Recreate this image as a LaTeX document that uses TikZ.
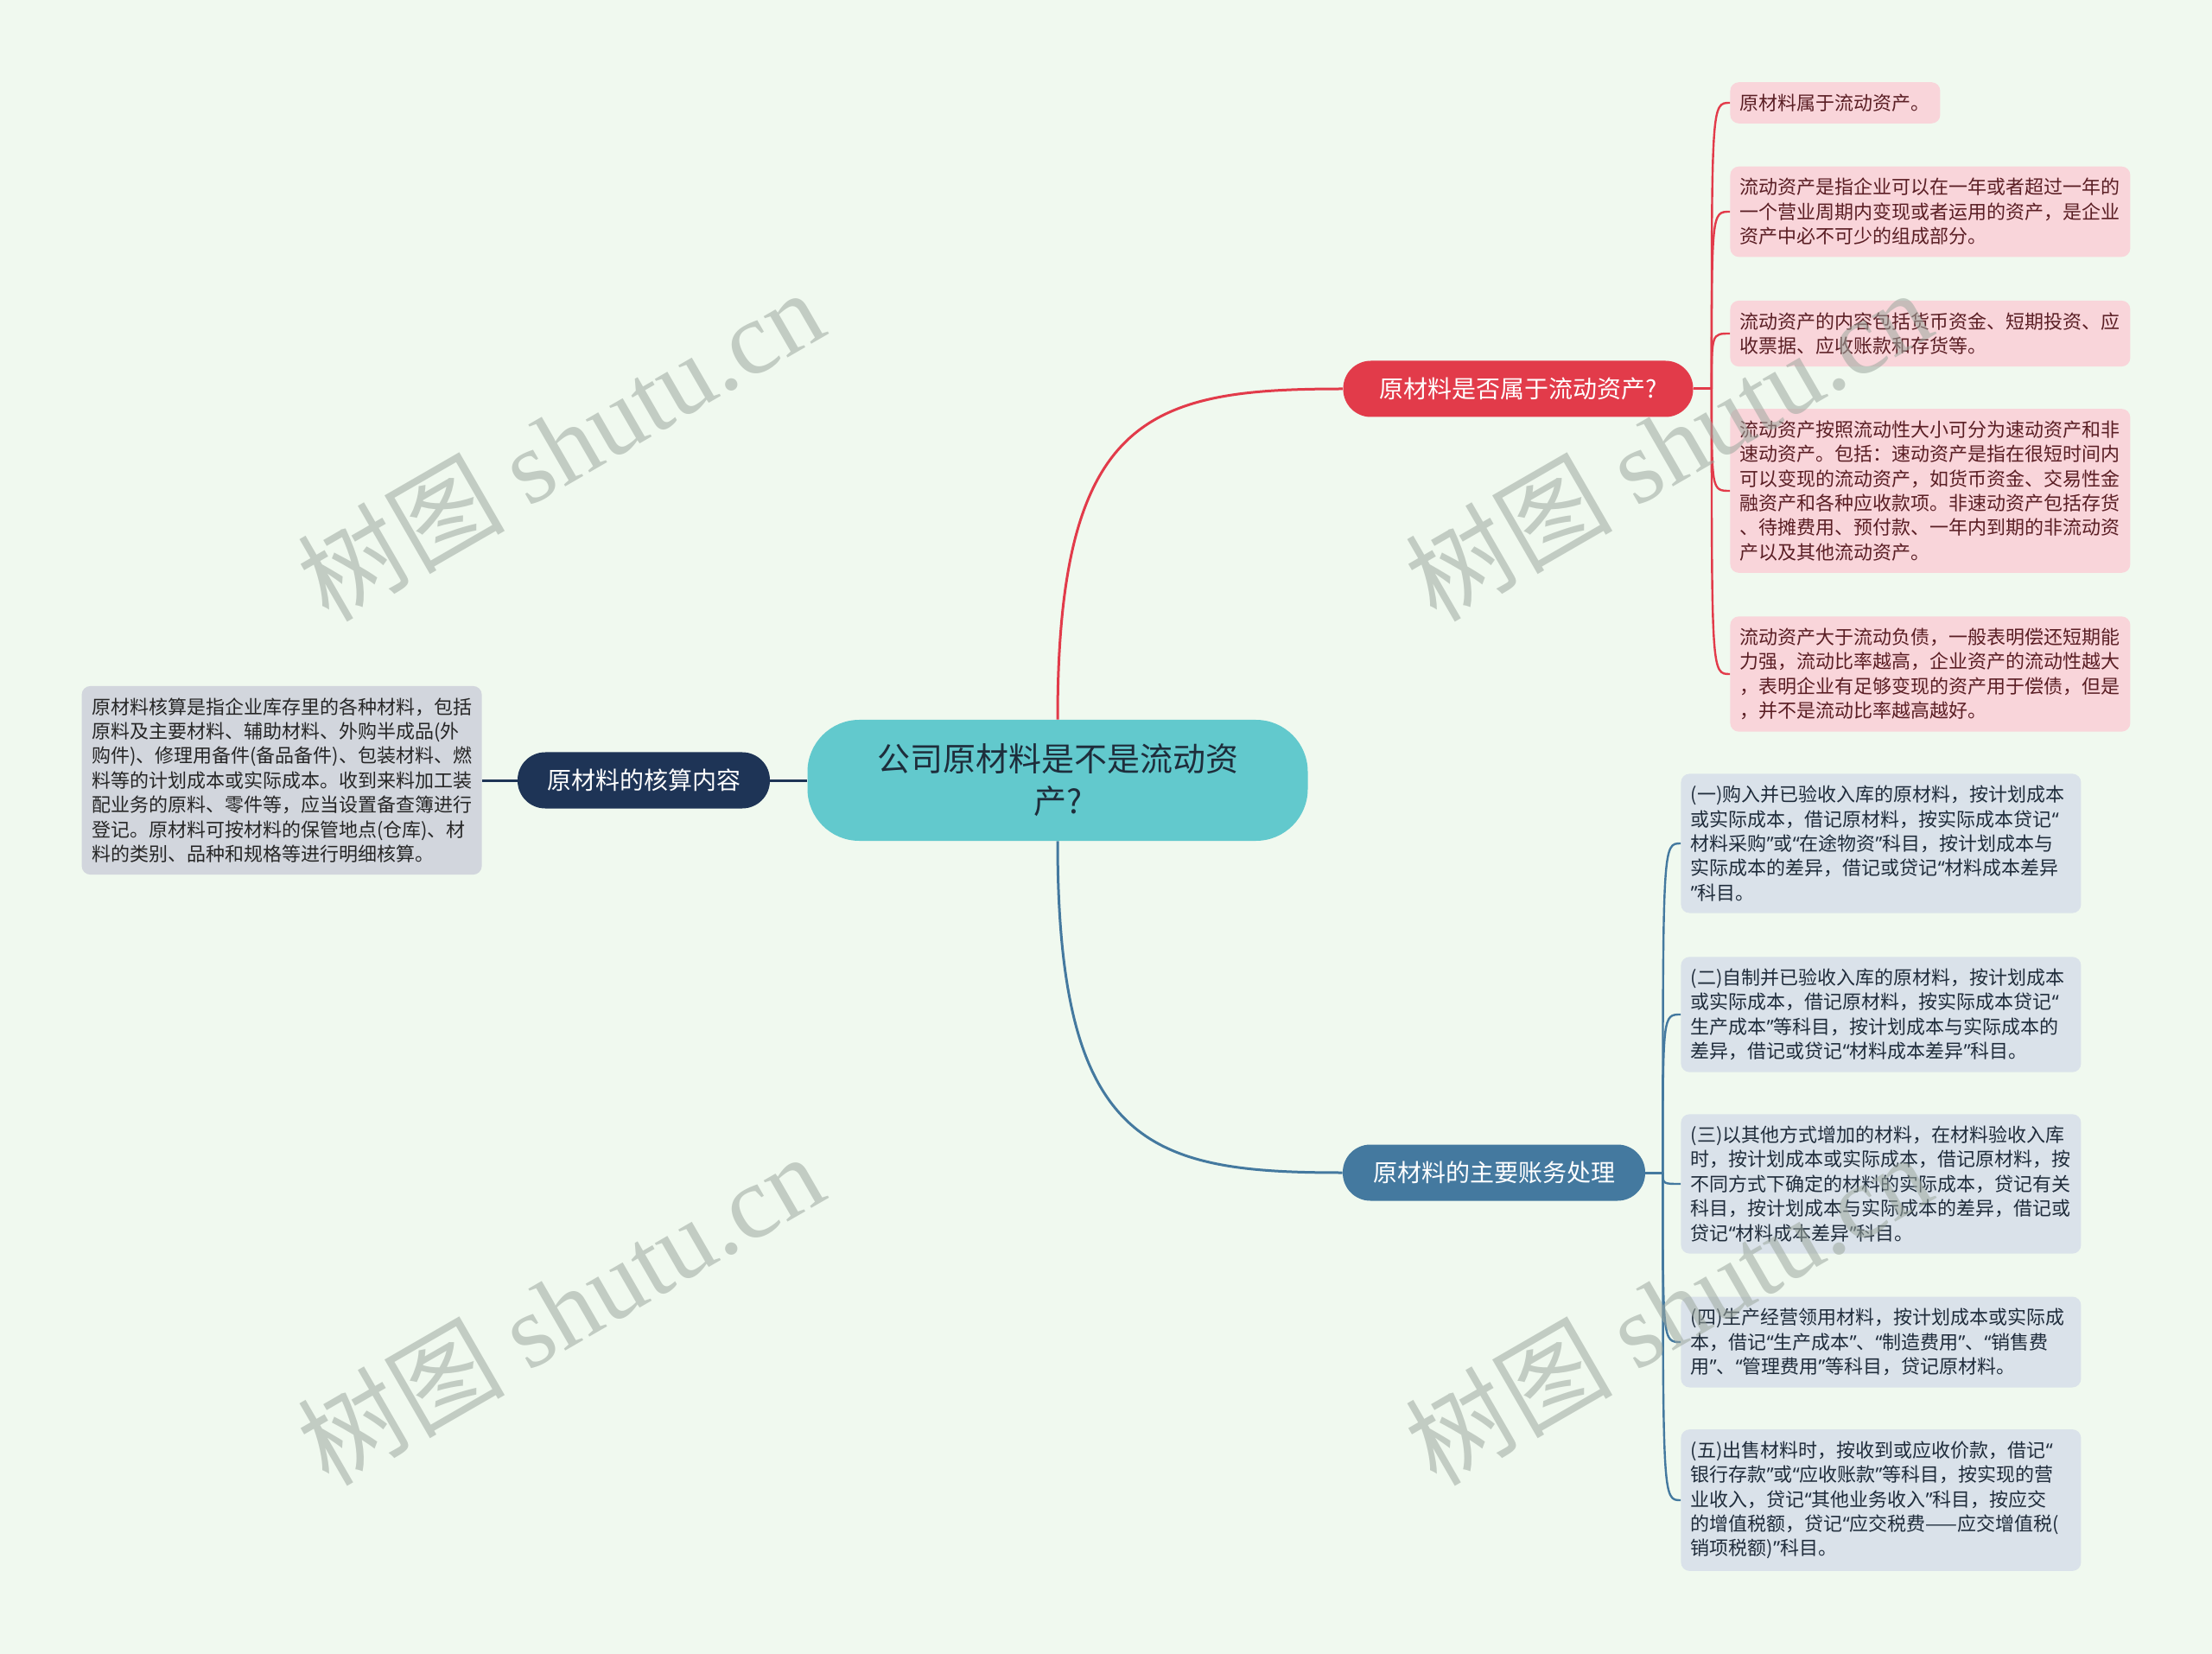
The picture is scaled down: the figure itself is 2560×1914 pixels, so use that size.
\documentclass[tikz,border=0pt]{standalone}
\usepackage{fontspec}
\setmainfont{Noto Sans CJK SC}
\newfontfamily\wmlatin{Liberation Serif}
\newfontfamily\quotefont{Noto Sans}
\newcommand\oq{{\quotefont “}}
\newcommand\cq{{\quotefont ”}}
\usetikzlibrary{calc}

\definecolor{bgmint}{HTML}{F0F9EF}
\definecolor{rootteal}{HTML}{62C9CD}
\definecolor{roottext}{HTML}{1E2D3B}
\definecolor{qred}{HTML}{E23B4A}
\definecolor{navy}{HTML}{1E3456}
\definecolor{steel}{HTML}{44799F}
\definecolor{pinkleaf}{HTML}{F9D5DA}
\definecolor{pinktext}{HTML}{5A1E24}
\definecolor{blueleaf}{HTML}{DAE2EA}
\definecolor{bluetext}{HTML}{1F2C3B}
\definecolor{greyleaf}{HTML}{D2D6DD}
\definecolor{wmgrey}{HTML}{9DA89F}

\tikzset{
  rootbox/.style={fill=rootteal,text=roottext,rounded corners=30pt,align=center,
    minimum width=289.5pt,minimum height=70pt,
    font=\fontsize{19}{24.5}\selectfont},
  mainbox/.style={text=white,rounded corners=16pt,minimum height=32.5pt,
    inner xsep=8pt,font=\fontsize{14}{17}\selectfont},
  leaf/.style={rounded corners=5pt,align=left,inner xsep=5.75pt,inner ysep=6.8pt,
    font=\fontsize{11}{14.2}\selectfont},
  wide/.style={text width=220pt},
  redleaf/.style={leaf,fill=pinkleaf,text=pinktext,anchor=west},
  blueleaf/.style={leaf,wide,fill=blueleaf,text=bluetext,anchor=west},
  greyleaf/.style={leaf,wide,fill=greyleaf,text=black!85,anchor=east},
  redline/.style={draw=qred,line width=1.5pt},
  blueline/.style={draw=steel,line width=1.5pt},
  navyline/.style={draw=navy,line width=1.5pt},
  wmark/.style={text=wmgrey,text opacity=0.55,rotate=30,font=\fontsize{60}{60}\selectfont}
}

\begin{document}
\begin{tikzpicture}[x=0.5pt,y=-0.5pt]
\fill[bgmint] (0,0) rectangle (2560,1914);
\useasboundingbox (0,0) rectangle (2560,1914);

\node[rootbox] (root) at (1224,903) {公司原材料是不是流动资\\产?};

\node[mainbox,fill=qred,minimum width=202.5pt] (asset) at (1757,450) {原材料是否属于流动资产?};
\node[mainbox,fill=navy,minimum width=146pt] (acct) at (745,903) {原材料的核算内容};
\node[mainbox,fill=steel,minimum width=175pt] (book) at (1729,1357) {原材料的主要账务处理};

% 流动资产
\node[redleaf] (r1) at (2002,119) {原材料属于流动资产。};
\node[redleaf,wide] (r2) at (2002,245) {流动资产是指企业可以在一年或者超过一年的\\一个营业周期内变现或者运用的资产，是企业\\资产中必不可少的组成部分。};
\node[redleaf,wide] (r3) at (2002,386) {流动资产的内容包括货币资金、短期投资、应\\收票据、应收账款和存货等。};
\node[redleaf,wide] (r4) at (2002,568) {流动资产按照流动性大小可分为速动资产和非\\速动资产。包括：速动资产是指在很短时间内\\可以变现的流动资产，如货币资金、交易性金\\融资产和各种应收款项。非速动资产包括存货\\、待摊费用、预付款、一年内到期的非流动资\\产以及其他流动资产。};
\node[redleaf,wide] (r5) at (2002,780) {流动资产大于流动负债，一般表明偿还短期能\\力强，流动比率越高，企业资产的流动性越大\\，表明企业有足够变现的资产用于偿债，但是\\，并不是流动比率越高越好。};

% 账务处理
\node[blueleaf] (b1) at (1945,976) {(一)购入并已验收入库的原材料，按计划成本\\或实际成本，借记原材料，按实际成本贷记\oq\\材料采购\cq 或\oq 在途物资\cq 科目，按计划成本与\\实际成本的差异，借记或贷记\oq 材料成本差异\\\cq 科目。};
\node[blueleaf] (b2) at (1945,1174) {(二)自制并已验收入库的原材料，按计划成本\\或实际成本，借记原材料，按实际成本贷记\oq\\生产成本\cq 等科目，按计划成本与实际成本的\\差异，借记或贷记\oq 材料成本差异\cq 科目。};
\node[blueleaf] (b3) at (1945,1370) {(三)以其他方式增加的材料，在材料验收入库\\时，按计划成本或实际成本，借记原材料，按\\不同方式下确定的材料的实际成本，贷记有关\\科目，按计划成本与实际成本的差异，借记或\\贷记\oq 材料成本差异\cq 科目。};
\node[blueleaf] (b4) at (1945,1553) {(四)生产经营领用材料，按计划成本或实际成\\本，借记\oq 生产成本\cq 、\oq 制造费用\cq 、\oq 销售费\\用\cq 、\oq 管理费用\cq 等科目，贷记原材料。};
\node[blueleaf] (b5) at (1945,1736) {(五)出售材料时，按收到或应收价款，借记\oq\\银行存款\cq 或\oq 应收账款\cq 等科目，按实现的营\\业收入，贷记\oq 其他业务收入\cq 科目，按应交\\的增值税额，贷记\oq 应交税费——应交增值税(\\销项税额)\cq 科目。};

% 核算内容
\node[greyleaf] (g1) at (558,903) {原材料核算是指企业库存里的各种材料，包括\\原料及主要材料、辅助材料、外购半成品(外\\购件)、修理用备件(备品备件)、包装材料、燃\\料等的计划成本或实际成本。收到来料加工装\\配业务的原料、零件等，应当设置备查簿进行\\登记。原材料可按材料的保管地点(仓库)、材\\料的类别、品种和规格等进行明细核算。};

\draw[navyline] (root.west) -- (acct.east);
\draw[navyline] (acct.west) -- (g1.east);
\draw[redline] (root.north) .. controls +(0,-353) and +(-224,0) .. (asset.west);
\draw[blueline] (root.south) .. controls +(0,353) and +(-224,0) .. (book.west);

\draw[redline] (asset.east) -- ++(21,0) coordinate (ab);
\foreach \n in {r1,r2,r3,r4,r5}
  \draw[redline,line width=1.2pt] (ab) .. controls (ab |- \n.west) .. (\n.west);
\draw[blueline] (book.east) -- ++(20,0) coordinate (bb);
\foreach \n in {b1,b2,b3,b4,b5}
  \draw[blueline,line width=1.2pt] (bb) .. controls (bb |- \n.west) .. (\n.west);

\node[wmark] (w1) at (648,514) {树图 {\wmlatin shutu.cn}};
\node[wmark] (w2) at (1930,514) {树图 {\wmlatin shutu.cn}};
\node[wmark] (w3) at (648,1514) {树图 {\wmlatin shutu.cn}};
\node[wmark] (w4) at (1930,1514) {树图 {\wmlatin shutu.cn}};
\end{tikzpicture}
\end{document}
